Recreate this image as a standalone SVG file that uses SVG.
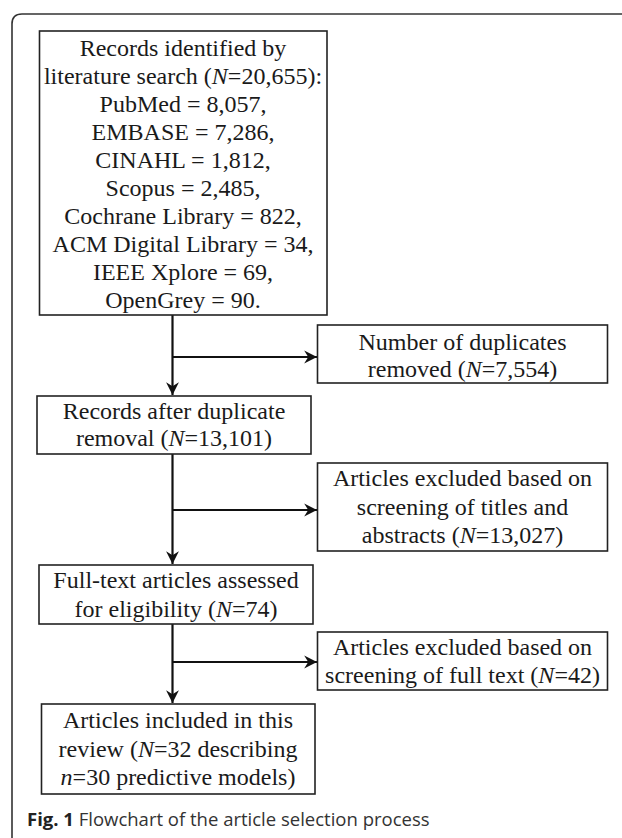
<svg xmlns="http://www.w3.org/2000/svg" width="622" height="838" viewBox="0 0 622 838">
<defs>
<style>
.box{fill:#fff;stroke:#222;stroke-width:1.6}
.t{font-family:"Liberation Serif","Times New Roman",serif;font-size:24px;fill:#1a1a1a;text-anchor:middle}
.i{font-style:italic}
.c{stroke:#111;stroke-width:2.2;fill:none}
.cap{font-family:"Open Sans","Noto Sans",sans-serif;font-size:18.5px;fill:#333}
</style>
<marker id="ah" markerUnits="userSpaceOnUse" markerWidth="14" markerHeight="14" viewBox="0 0 12 12" refX="11" refY="6" orient="auto">
<path d="M0,0.5 L11,6 L0,11.5 L3.5,6 z" fill="#111"/>
</marker>
</defs>
<rect x="0" y="0" width="622" height="838" fill="#fff"/>
<path d="M12,850 L12,24 Q12,14 22,14 L640,14" fill="none" stroke="#333" stroke-width="1.6"/>

<g id="connectors">
<line class="c" x1="172.5" y1="315" x2="172.5" y2="395"  marker-end="url(#ah)"/>
<line class="c" x1="172.5" y1="357" x2="317" y2="357" marker-end="url(#ah)"/>
<line class="c" x1="172.5" y1="454" x2="172.5" y2="564" marker-end="url(#ah)"/>
<line class="c" x1="172.5" y1="510" x2="317" y2="510" marker-end="url(#ah)"/>
<line class="c" x1="172.5" y1="624" x2="172.5" y2="703" marker-end="url(#ah)"/>
<line class="c" x1="172.5" y1="662" x2="317" y2="662" marker-end="url(#ah)"/>
</g>

<g id="records-identified">
<rect class="box" x="39.5" y="31" width="287.5" height="284"/>
<text class="t" x="183" y="56">Records identified by</text>
<text class="t" x="183" y="84">literature search (<tspan class="i">N</tspan>=20,655):</text>
<text class="t" x="183" y="112">PubMed = 8,057,</text>
<text class="t" x="183" y="140">EMBASE = 7,286,</text>
<text class="t" x="183" y="168">CINAHL = 1,812,</text>
<text class="t" x="183" y="196">Scopus = 2,485,</text>
<text class="t" x="183" y="224">Cochrane Library = 822,</text>
<text class="t" x="183" y="252">ACM Digital Library = 34,</text>
<text class="t" x="183" y="280">IEEE Xplore = 69,</text>
<text class="t" x="183" y="308">OpenGrey = 90.</text>
</g>

<g id="duplicates-removed">
<rect class="box" x="317.5" y="325" width="290" height="58"/>
<text class="t" x="462.5" y="350">Number of duplicates</text>
<text class="t" x="462.5" y="377">removed (<tspan class="i">N</tspan>=7,554)</text>
</g>

<g id="after-duplicate-removal">
<rect class="box" x="37" y="396" width="274" height="58"/>
<text class="t" x="174" y="419">Records after duplicate</text>
<text class="t" x="174" y="446">removal (<tspan class="i">N</tspan>=13,101)</text>
</g>

<g id="excluded-titles">
<rect class="box" x="317.5" y="463" width="290" height="88"/>
<text class="t" x="462.5" y="486">Articles excluded based on</text>
<text class="t" x="462.5" y="515">screening of titles and</text>
<text class="t" x="462.5" y="543">abstracts (<tspan class="i">N</tspan>=13,027)</text>
</g>

<g id="full-text">
<rect class="box" x="39" y="565" width="274" height="59"/>
<text class="t" x="176" y="588">Full-text articles assessed</text>
<text class="t" x="176" y="617">for eligibility (<tspan class="i">N</tspan>=74)</text>
</g>

<g id="excluded-full-text">
<rect class="box" x="317.5" y="632" width="290" height="58"/>
<text class="t" x="462.5" y="655">Articles excluded based on</text>
<text class="t" x="462.5" y="683">screening of full text (<tspan class="i">N</tspan>=42)</text>
</g>

<g id="included">
<rect class="box" x="41.5" y="704" width="273.5" height="90"/>
<text class="t" x="178" y="728">Articles included in this</text>
<text class="t" x="178" y="757">review (<tspan class="i">N</tspan>=32 describing</text>
<text class="t" x="178" y="785"><tspan class="i">n</tspan>=30 predictive models)</text>
</g>

<text class="cap" x="27" y="826"><tspan font-weight="bold" fill="#222">Fig. 1</tspan> Flowchart of the article selection process</text>
</svg>
